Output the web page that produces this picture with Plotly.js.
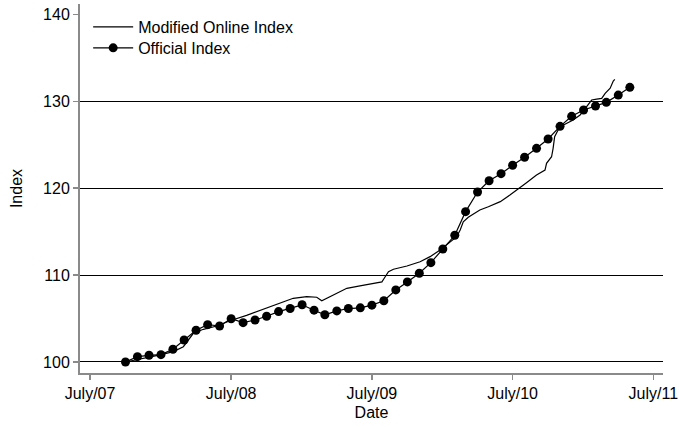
<!DOCTYPE html>
<html>
<head>
<meta charset="utf-8">
<script src="https://cdn.plot.ly/plotly-3.0.1.min.js"></script>
<style>html,body{margin:0;padding:0;background:#fff;}#chart{width:679px;height:427px;}</style>
</head>
<body>
<div id="chart"></div>
<script>
// Modified Online Index
const onlineDates = [
 "2007-10-01","2007-11-08","2007-12-30","2008-02-02","2008-02-28","2008-03-25","2008-04-20","2008-05-25",
 "2008-06-28","2008-08-10","2008-09-22","2008-10-27","2008-12-09","2009-01-13","2009-02-08","2009-02-21",
 "2009-03-23","2009-04-27","2009-05-31","2009-07-05","2009-07-27","2009-08-02","2009-08-13","2009-08-26",
 "2009-09-30","2009-11-03","2009-11-29","2009-12-25","2010-01-11","2010-01-28","2010-02-06","2010-02-15",
 "2010-02-23","2010-03-08","2010-04-07","2010-04-29","2010-05-30","2010-06-24","2010-07-12","2010-08-06",
 "2010-09-01","2010-09-23","2010-09-27","2010-10-10","2010-10-14","2010-10-18","2010-10-31","2010-11-18",
 "2010-12-05","2010-12-23","2011-01-09","2011-01-22","2011-02-04","2011-02-17","2011-02-26","2011-03-11",
 "2011-03-19","2011-03-23"
];
const onlineValues = [
 100.0,100.31,100.81,101.19,101.76,103.30,103.76,104.14,
 104.75,105.37,106.06,106.56,107.33,107.51,107.45,107.05,
 107.71,108.48,108.75,109.06,109.21,109.63,110.39,110.67,
 111.05,111.54,112.12,112.89,113.46,114.04,114.42,115.19,
 116.14,116.65,117.49,117.87,118.45,119.22,119.79,120.63,
 121.52,122.09,122.87,123.62,124.59,125.93,127.04,127.47,
 127.85,128.42,129.38,130.15,130.26,130.34,130.92,131.50,
 132.34,132.53
];
// Official Index (monthly)
const officialDates = [
 "2007-10-01","2007-11-01","2007-12-01","2008-01-01","2008-02-01","2008-03-01","2008-04-01","2008-05-01",
 "2008-06-01","2008-07-01","2008-08-01","2008-09-01","2008-10-01","2008-11-01","2008-12-01","2009-01-01",
 "2009-02-01","2009-03-01","2009-04-01","2009-05-01","2009-06-01","2009-07-01","2009-08-01","2009-09-01",
 "2009-10-01","2009-11-01","2009-12-01","2010-01-01","2010-02-01","2010-03-01","2010-04-01","2010-05-01",
 "2010-06-01","2010-07-01","2010-08-01","2010-09-01","2010-10-01","2010-11-01","2010-12-01","2011-01-01",
 "2011-02-01","2011-03-01","2011-04-01","2011-05-01"
];
const officialValues = [
 100.0,100.61,100.77,100.84,101.46,102.53,103.65,104.29,
 104.14,104.98,104.52,104.83,105.26,105.80,106.15,106.58,
 105.96,105.43,105.88,106.15,106.23,106.54,107.04,108.29,
 109.21,110.21,111.43,113.0,114.58,117.30,119.56,120.86,
 121.67,122.64,123.56,124.59,125.66,127.12,128.27,129.0,
 129.46,129.88,130.72,131.61
];
const xTickVals = ["2007-07-01","2008-07-01","2009-07-01","2010-07-01","2011-07-01"];
const xTickText = ["July/07","July/08","July/09","July/10","July/11"];
const yTickVals = [100,110,120,130,140];
const yGridVals = [100,110,120,130];

const font = {family: "Liberation Sans, Arial, sans-serif", size: 16, color: "#000"};
const yRange = [98.73, 141.2];

const traces = [
 {x: onlineDates, y: onlineValues, yaxis: "y2", type: "scatter", mode: "lines", name: "Modified Online Index",
  legend: "legend", line: {color: "#000", width: 1.2}},
 {x: officialDates, y: officialValues, type: "scatter", mode: "lines+markers", name: "Official Index",
  legend: "legend2", line: {color: "#000", width: 1.2}, marker: {color: "#000", size: 9, symbol: "circle"}}
];

const legendBase = {xanchor: "left", yanchor: "top", bgcolor: "rgba(0,0,0,0)", font: font, itemwidth: 40};

const layout = {
 width: 679, height: 427,
 margin: {l: 80, r: 16, t: 4, b: 54},
 paper_bgcolor: "#fff", plot_bgcolor: "rgba(0,0,0,0)",
 font: font,
 showlegend: true,
 legend: Object.assign({x: 0.014, y: 0.984}, legendBase),
 legend2: Object.assign({x: 0.014, y: 0.927}, legendBase),
 xaxis: {
  type: "date", range: ["2007-06-05", "2011-07-26"],
  tickmode: "array", tickvals: xTickVals, ticktext: xTickText,
  showgrid: false, zeroline: false,
  showline: true, linecolor: "#8a8a8a", linewidth: 2,
  ticks: "outside", ticklen: 5, tickcolor: "#8a8a8a", tickwidth: 1.5,
  tickfont: font,
  title: {text: "Date", font: font, standoff: 6}
 },
 yaxis: {
  range: yRange,
  tickmode: "array", tickvals: yTickVals,
  showgrid: false, zeroline: false,
  showline: true, linecolor: "#8a8a8a", linewidth: 2,
  ticks: "outside", ticklen: 5, tickcolor: "#8a8a8a", tickwidth: 1.5,
  tickfont: font,
  title: {text: "Index", font: font, standoff: 16}
 },
 yaxis2: {
  range: yRange, overlaying: "y", side: "left",
  tickmode: "array", tickvals: yGridVals,
  showgrid: true, gridcolor: "#000", gridwidth: 1, zeroline: false,
  showline: false, showticklabels: false, ticks: ""
 }
};

Plotly.newPlot("chart", traces, layout, {displayModeBar: false, staticPlot: true});
</script>
</body>
</html>
